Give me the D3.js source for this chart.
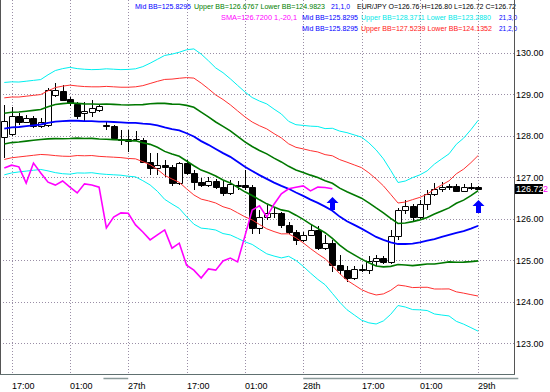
<!DOCTYPE html>
<html>
<head>
<meta charset="utf-8">
<script src="https://cdn.jsdelivr.net/npm/d3@7"></script>
<style>
body { margin: 0; background: #fff; }
svg { display: block; }
text { font-family: "Liberation Sans", Arial, sans-serif; }
</style>
</head>
<body>
<svg id="chart" width="550" height="392"></svg>
<script>
// EUR/JPY hourly bars
var opens  = [127.98,128.04,128.47,128.33,128.43,128.23,128.26,128.98,129.08,128.88,128.76,128.55,128.57,128.62,128.26,128.23,127.92,127.87,127.92,127.90,
              127.37,127.22,127.29,127.25,126.86,127.34,127.10,126.88,126.81,126.91,126.76,126.62,126.79,126.81,126.76,125.78,126.04,126.14,126.14,125.85,
              125.68,125.49,125.61,125.73,125.29,125.41,124.88,124.76,124.57,124.79,124.76,124.98,125.05,124.96,125.58,126.21,126.31,126.04,126.35,126.60,
              126.72,126.76,126.79,126.67,126.76,126.76];
var highs  = [128.74,128.69,128.55,128.50,128.47,128.43,129.15,129.27,129.22,128.93,128.81,128.81,128.86,128.76,128.35,128.26,128.14,128.14,128.11,127.94,
              127.58,127.58,127.41,127.29,127.37,127.41,127.17,126.98,127.00,126.96,126.91,126.93,126.91,127.17,126.81,126.21,126.33,126.26,126.16,125.92,
              125.73,125.68,125.85,125.83,125.61,125.49,125.12,124.86,124.86,124.88,125.10,125.12,125.10,125.73,126.26,126.45,126.35,126.45,126.69,126.86,
              126.88,126.84,126.84,126.84,126.86,126.80];
var lows   = [127.46,128.00,128.26,128.30,128.19,128.19,128.21,128.93,128.84,128.72,128.40,128.33,128.45,128.57,128.14,127.90,127.78,127.61,127.87,127.34,
              127.05,127.05,127.00,126.79,126.81,127.05,126.69,126.76,126.76,126.72,126.55,126.57,126.69,126.69,125.63,125.63,125.97,126.02,125.78,125.63,
              125.37,125.44,125.58,125.25,125.25,124.72,124.64,124.47,124.52,124.72,124.67,124.86,124.91,124.91,125.49,126.11,125.92,125.97,126.21,126.55,
              126.64,126.69,126.64,126.64,126.69,126.72];
var closes = [128.35,128.47,128.33,128.43,128.23,128.33,129.10,129.10,128.86,128.79,128.47,128.60,128.67,128.72,128.23,127.94,127.90,127.92,127.91,127.37,
              127.22,127.29,127.25,126.86,127.34,127.10,126.88,126.81,126.91,126.76,126.62,126.84,126.81,126.76,125.78,126.04,126.14,126.13,125.85,125.68,
              125.49,125.61,125.73,125.29,125.41,124.88,124.76,124.57,124.79,124.76,124.98,125.05,124.96,125.58,126.21,126.31,126.04,126.35,126.60,126.72,
              126.76,126.79,126.67,126.76,126.75,126.72];

// Bollinger (21): middle line and one standard deviation, per bar
var bbMid = [128.17,128.20,128.21,128.23,128.25,128.27,128.31,128.34,128.35,128.36,128.36,128.35,128.35,128.34,128.34,128.33,128.32,128.31,128.31,128.29,
             128.28,128.25,128.20,128.16,128.13,128.06,127.98,127.87,127.78,127.68,127.58,127.49,127.37,127.25,127.15,127.05,126.96,126.87,126.79,126.72,
             126.63,126.55,126.46,126.38,126.29,126.19,126.05,125.94,125.85,125.76,125.66,125.56,125.49,125.43,125.39,125.39,125.40,125.43,125.47,125.51,
             125.56,125.61,125.66,125.70,125.76,125.83];
var bbDev = [0.371,0.366,0.361,0.361,0.361,0.361,0.386,0.410,0.422,0.429,0.419,0.417,0.414,0.419,0.424,0.424,0.424,0.429,0.434,0.458,
             0.489,0.530,0.578,0.602,0.627,0.670,0.704,0.699,0.675,0.651,0.646,0.627,0.614,0.602,0.590,0.595,0.602,0.590,0.578,0.542,
             0.545,0.566,0.590,0.614,0.627,0.663,0.687,0.711,0.723,0.735,0.723,0.699,0.651,0.578,0.494,0.506,0.530,0.542,0.561,0.602,
             0.627,0.651,0.711,0.747,0.795,0.847];

var smaShift = 20;                 // SMA(1) shifted -20 bars
var arrowBars = [45, 65];
var arrowPrices = [126.52, 126.45];

var timeTicks = [1, 9, 17, 25, 33, 41, 49, 57, 65];
var timeLabels = ["17:00", "01:00", "27th", "17:00", "01:00", "28th", "17:00", "01:00", "29th"];
var priceTicks = [123, 124, 125, 126, 127, 128, 129, 130];
var daySpans = [[13.6, 17], [41, 70.5]];

var headerLines = [
  [{t: "Mid BB=125.8295", c: "#0000ff", x: 135, w: 56},
   {t: "Upper BB=126.6767 Lower BB=124.9823", c: "#008000", x: 194, w: 131},
   {t: "21,1,0", c: "#0000ff", x: 331, w: 19},
   {t: "EUR/JPY O=126.76 H=126.80 L=126.72 C=126.72", c: "#000000", x: 357, w: 159}],
  [{t: "SMA=126.7200  1,-20,1", c: "#ff00ff", x: 221, w: 76},
   {t: "Mid BB=125.8295", c: "#0000ff", x: 302, w: 56},
   {t: "Upper BB=128.3711 Lower BB=123.2880", c: "#00e8e8", x: 361, w: 130},
   {t: "21,3,0", c: "#0000ff", x: 499, w: 18}],
  [{t: "Mid BB=125.8295", c: "#0000ff", x: 302, w: 56},
   {t: "Upper BB=127.5239 Lower BB=124.1352", c: "#ff2020", x: 361, w: 131},
   {t: "21,2,0", c: "#0000ff", x: 499, w: 18}]
];

var svg = d3.select("#chart");
var plotRight = 514, plotBottom = 374;

var x = d3.scaleLinear().domain([0, 65]).range([4.3, 478.2]);
var y = d3.scaleLinear().domain([123, 130]).range([343.2, 52.7]);

function px(v) { return Math.round(v) + 0.5; }

// grid
var grid = svg.append("g").attr("stroke", "#9a8ea6").attr("stroke-dasharray", "1,2").attr("stroke-width", 1);
grid.selectAll(".vg").data(timeTicks).enter().append("line")
  .attr("x1", function(d) { return px(x(d)); }).attr("x2", function(d) { return px(x(d)); })
  .attr("y1", 0).attr("y2", plotBottom);
grid.selectAll(".hg").data(priceTicks).enter().append("line")
  .attr("x1", 0).attr("x2", plotRight)
  .attr("y1", function(d) { return px(y(d)); }).attr("y2", function(d) { return px(y(d)); });

// header texts
headerLines.forEach(function(line, k) {
  svg.append("g").selectAll("text").data(line).enter().append("text")
    .attr("x", function(d) { return d.x; })
    .attr("y", 8.5 + k * 11)
    .attr("font-size", 7)
    .attr("textLength", function(d) { return d.w; })
    .attr("lengthAdjust", "spacingAndGlyphs")
    .attr("fill", function(d) { return d.c; })
    .text(function(d) { return d.t; });
});

// candles (chart in background)
var bars = closes.map(function(c, i) { return {i: i, o: opens[i], h: highs[i], l: lows[i], c: c}; });
var cg = svg.append("g");
cg.selectAll(".wick").data(bars).enter().append("line")
  .attr("x1", function(d) { return px(x(d.i)); }).attr("x2", function(d) { return px(x(d.i)); })
  .attr("y1", function(d) { return Math.round(y(d.h)); }).attr("y2", function(d) { return Math.round(y(d.l)); })
  .attr("stroke", "#000").attr("stroke-width", 1);
cg.selectAll(".body").data(bars).enter().append("path")
  .attr("d", function(d) {
    var x0 = Math.round(x(d.i)) - 2.5, x1 = x0 + 6;
    var y0 = px(y(Math.max(d.o, d.c))), y1 = px(y(Math.min(d.o, d.c)));
    return "M" + x0 + "," + y0 + "H" + x1 + "V" + y1 + "H" + x0 + "Z";
  })
  .attr("fill", function(d) { return d.c < d.o ? "#000" : "#fff"; })
  .attr("stroke", "#000").attr("stroke-width", 1);

// Bollinger bands
var bands = [
  {k: 3, c: "#00f0f0", w: 1}, {k: -3, c: "#00f0f0", w: 1},
  {k: 2, c: "#ff3030", w: 1}, {k: -2, c: "#ff3030", w: 1},
  {k: 1, c: "#007800", w: 1.6}, {k: -1, c: "#007800", w: 1.6},
  {k: 0, c: "#0000ff", w: 1.8}
];
bands.forEach(function(b) {
  var line = d3.line()
    .x(function(d, i) { return x(i); })
    .y(function(d, i) { return y(d + b.k * bbDev[i]); });
  svg.append("path").datum(bbMid).attr("d", line)
    .attr("fill", "none").attr("stroke", b.c).attr("stroke-width", b.w);
});

// shifted SMA(1)
var smaLine = d3.line()
  .x(function(d, i) { return x(i); })
  .y(function(d) { return y(d); });
svg.append("path").datum(closes.slice(smaShift)).attr("d", smaLine)
  .attr("fill", "none").attr("stroke", "#ff00ff").attr("stroke-width", 1.6);

// signal arrows
svg.selectAll(".arrow").data(arrowBars).enter().append("path")
  .attr("d", function(b, k) {
    var cx = Math.round(x(b)) + 0.5, ty = Math.round(y(arrowPrices[k]));
    return "M" + cx + "," + ty + "L" + (cx + 6) + "," + (ty + 6) + "L" + (cx + 2.5) + "," + (ty + 6) +
      "L" + (cx + 2.5) + "," + (ty + 13) + "L" + (cx - 2.5) + "," + (ty + 13) + "L" + (cx - 2.5) + "," + (ty + 6) +
      "L" + (cx - 6) + "," + (ty + 6) + "Z";
  })
  .attr("fill", "#0000ff");

// frame
svg.append("line").attr("x1", 0.5).attr("x2", 0.5).attr("y1", 0).attr("y2", plotBottom).attr("stroke", "#555");
svg.append("line").attr("x1", plotRight + 0.5).attr("x2", plotRight + 0.5).attr("y1", 0).attr("y2", plotBottom).attr("stroke", "#555");
svg.append("line").attr("x1", 0).attr("x2", plotRight + 1).attr("y1", plotBottom + 0.5).attr("y2", plotBottom + 0.5).attr("stroke", "#607070");

// price axis labels
svg.append("g").selectAll("text").data(priceTicks).enter().append("text")
  .attr("x", 516).attr("y", function(d) { return y(d) + 3.5; })
  .attr("font-size", 9).attr("fill", "#000")
  .text(function(d) { return d.toFixed(2); });

// current price marker (SMA label peeks out in magenta)
var last = closes[closes.length - 1];
var lastText = last.toFixed(2);
svg.append("text").attr("x", 543).attr("y", y(last) + 3.5).attr("font-size", 9).attr("fill", "#ff00ff")
  .text(lastText.slice(-1));
svg.append("rect").attr("x", 515).attr("y", Math.round(y(last)) - 5).attr("width", 28).attr("height", 10).attr("fill", "#000");
svg.append("text").attr("x", 516).attr("y", y(last) + 3.5).attr("font-size", 9).attr("fill", "#fff").text(lastText);

// time axis
svg.append("g").selectAll("text").data(timeTicks).enter().append("text")
  .attr("x", function(d) { return Math.round(x(d)); })
  .attr("y", 389).attr("font-size", 9).attr("fill", "#000")
  .text(function(d, i) { return timeLabels[i]; });
svg.append("g").selectAll("line").data(daySpans).enter().append("line")
  .attr("x1", function(d) { return x(d[0]); }).attr("x2", function(d) { return x(d[1]); })
  .attr("y1", 378.5).attr("y2", 378.5).attr("stroke", "#8a9a9a").attr("stroke-width", 1.5);
</script>
</body>
</html>
